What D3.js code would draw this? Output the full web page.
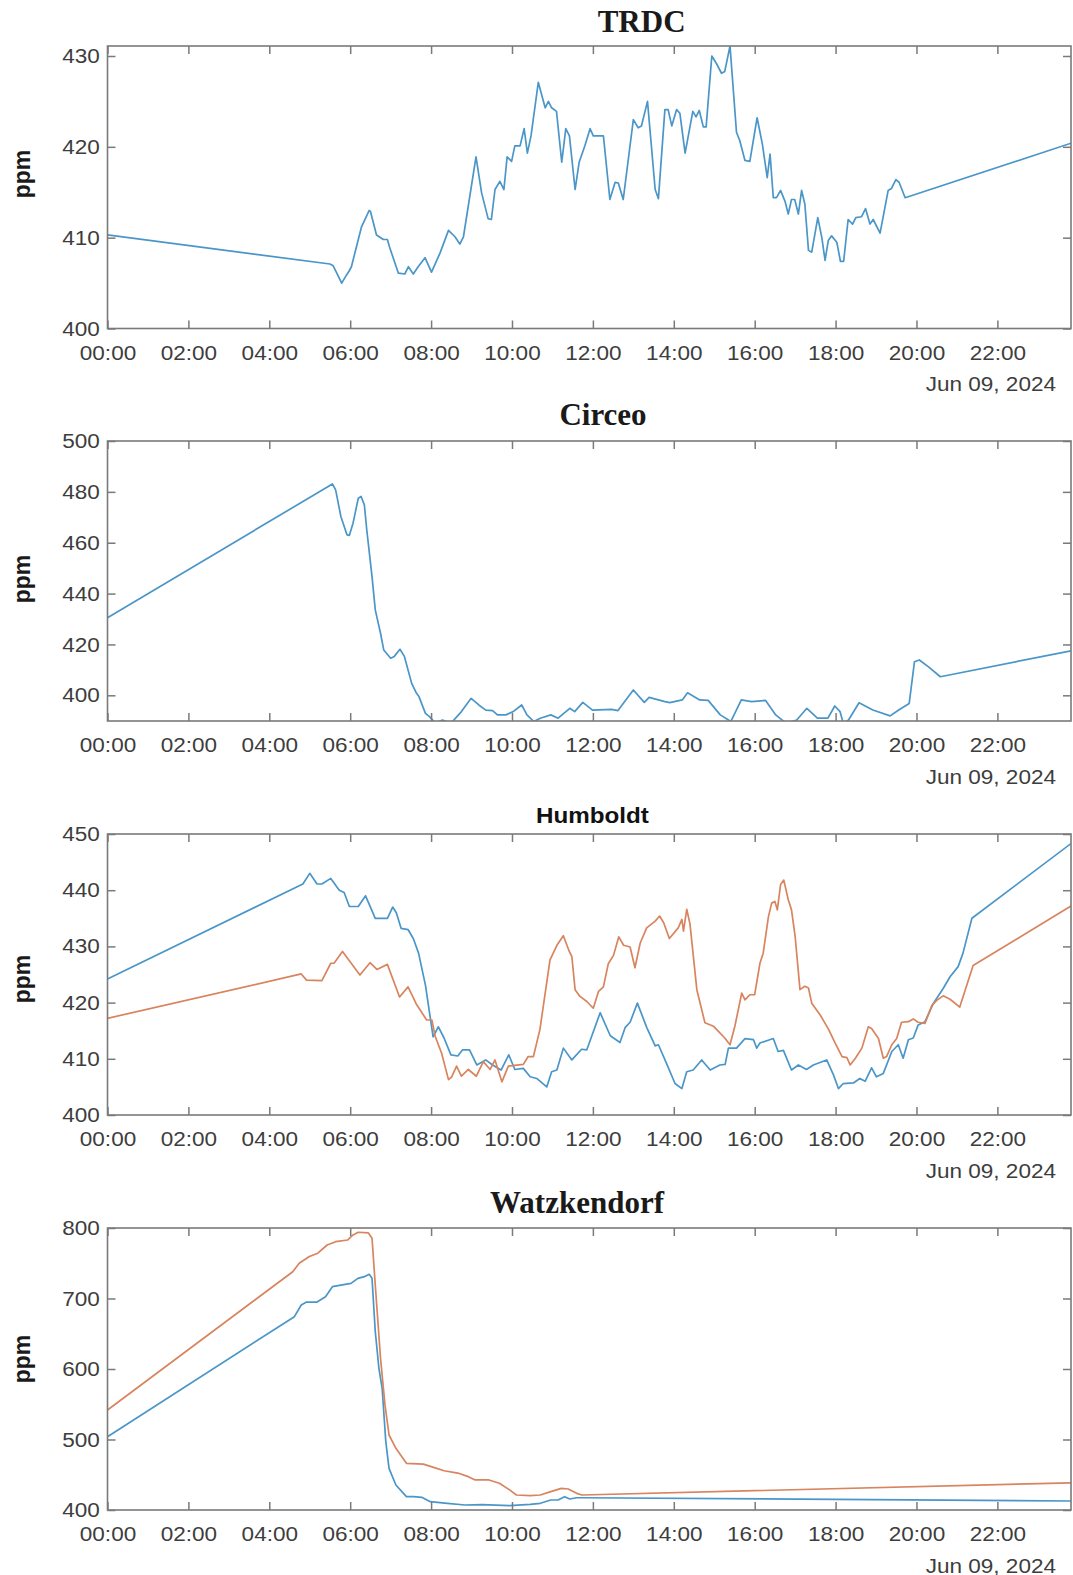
<!DOCTYPE html>
<html><head><meta charset="utf-8">
<script src="https://cdn.jsdelivr.net/npm/d3@7"></script>
<style>
html,body{margin:0;padding:0;background:#fff;}
svg{display:block;}
</style></head><body>
<svg id="chart" width="1073" height="1575"></svg>
<script>
// ---------- data (hour of day, ppm) ----------
const xTickHours = [0, 2, 4, 6, 8, 10, 12, 14, 16, 18, 20, 22];
const dateLabel = "Jun 09, 2024";
const panelTitles = ["TRDC", "Circeo", "Humboldt", "Watzkendorf"];
const yTicksTRDC = [400, 410, 420, 430];
const yTicksCirceo = [400, 420, 440, 460, 480, 500];
const yTicksHumboldt = [400, 410, 420, 430, 440, 450];
const yTicksWatz = [400, 500, 600, 700, 800];

const trdc = [[0,410.3],[5.50,407.1],[5.58,406.9],[5.79,405.0],[5.91,405.9],[5.97,406.3],[6.03,406.8],[6.28,411.2],[6.47,413.0],[6.50,412.9],[6.65,410.3],[6.82,409.8],[6.92,409.8],[6.97,409.0],[7.19,406.1],[7.35,406.0],[7.44,406.8],[7.56,406.0],[7.68,406.8],[7.85,407.8],[8.01,406.2],[8.22,408.3],[8.43,410.8],[8.59,410.1],[8.71,409.3],[8.80,410.1],[9.11,418.9],[9.25,414.9],[9.41,412.1],[9.49,412.0],[9.58,415.3],[9.70,416.2],[9.80,415.3],[9.88,418.9],[9.99,418.4],[10.07,420.1],[10.20,420.1],[10.30,422.0],[10.38,419.3],[10.47,421.2],[10.65,427.1],[10.82,424.3],[10.90,425.0],[10.98,424.3],[11.10,423.9],[11.23,418.3],[11.33,422.0],[11.42,421.2],[11.56,415.3],[11.66,418.3],[11.80,420.1],[11.93,422.0],[12.01,421.2],[12.26,421.2],[12.42,414.2],[12.55,416.1],[12.63,416.0],[12.75,414.2],[13.00,423.0],[13.12,422.1],[13.20,422.3],[13.35,425.0],[13.54,415.3],[13.62,414.3],[13.78,424.1],[13.86,424.1],[13.95,422.3],[14.07,424.1],[14.15,423.7],[14.28,419.3],[14.47,423.9],[14.55,423.3],[14.63,424.0],[14.73,422.2],[14.80,422.2],[14.94,430.0],[15.05,429.2],[15.18,428.1],[15.26,428.3],[15.39,431.1],[15.55,421.6],[15.63,420.7],[15.76,418.5],[15.88,418.4],[16.06,423.2],[16.19,420.3],[16.31,416.6],[16.38,419.2],[16.46,414.4],[16.54,414.4],[16.64,415.2],[16.75,414.0],[16.83,412.6],[16.91,414.2],[16.99,414.2],[17.08,412.6],[17.16,415.2],[17.24,413.7],[17.33,408.6],[17.41,408.4],[17.56,412.2],[17.66,410.0],[17.74,407.5],[17.82,409.7],[17.90,410.2],[18.03,409.5],[18.12,407.4],[18.20,407.4],[18.31,412.0],[18.42,411.5],[18.50,412.2],[18.64,412.3],[18.74,413.2],[18.85,411.5],[18.93,412.0],[19.10,410.5],[19.30,415.2],[19.38,415.4],[19.49,416.4],[19.57,416.1],[19.72,414.4],[23.82,420.4]];

const circeo = [[0,430.5],[5.56,483.1],[5.64,480.8],[5.77,470.3],[5.92,463.1],[5.98,462.9],[6.07,467.7],[6.20,477.5],[6.27,478.2],[6.35,474.9],[6.41,465.0],[6.54,446.7],[6.62,433.6],[6.75,424.4],[6.83,417.8],[7.00,414.6],[7.09,415.3],[7.23,418.1],[7.34,415.3],[7.52,404.7],[7.64,400.8],[7.70,399.5],[7.86,392.9],[7.96,391.6],[8.11,389.0],[8.28,390.3],[8.49,389.0],[8.75,393.6],[8.99,398.8],[9.18,396.2],[9.35,394.2],[9.52,394.0],[9.64,392.3],[9.85,392.3],[10.03,393.6],[10.24,396.2],[10.37,392.3],[10.54,389.7],[10.70,391.0],[10.96,392.3],[11.14,391.0],[11.43,394.9],[11.55,393.6],[11.75,397.2],[11.99,394.2],[12.46,394.5],[12.62,394.0],[13.00,402.1],[13.27,397.2],[13.39,399.2],[13.78,397.5],[13.90,397.1],[14.21,398.2],[14.34,401.0],[14.64,398.2],[14.85,398.0],[15.15,392.3],[15.41,389.7],[15.67,398.2],[15.92,397.5],[16.27,398.0],[16.52,392.3],[16.78,389.0],[17.04,390.3],[17.29,394.9],[17.55,391.0],[17.81,391.0],[17.98,395.8],[18.11,393.6],[18.19,389.0],[18.32,390.3],[18.58,397.1],[18.92,394.2],[19.35,391.9],[19.56,394.2],[19.82,396.8],[19.95,413.2],[20.07,413.9],[20.29,411.3],[20.59,407.3],[23.82,417.5]];

const humboldtBlue = [[0,424.2],[4.83,441.1],[5.00,443.0],[5.18,441.1],[5.30,441.1],[5.52,442.1],[5.73,440.0],[5.85,439.6],[5.98,437.1],[6.20,437.1],[6.38,439.0],[6.62,435.0],[6.92,435.0],[7.05,437.0],[7.14,436.0],[7.26,433.2],[7.43,433.0],[7.56,431.4],[7.69,428.8],[7.86,423.1],[8.05,413.9],[8.18,415.7],[8.32,413.7],[8.49,410.7],[8.66,410.5],[8.78,411.6],[8.95,411.6],[9.13,408.9],[9.35,409.8],[9.52,408.9],[9.73,408.0],[9.92,410.7],[10.07,408.1],[10.28,408.3],[10.45,406.8],[10.61,406.5],[10.86,405.0],[10.98,407.7],[11.11,408.0],[11.27,411.9],[11.48,409.8],[11.72,411.7],[11.85,411.6],[12.18,418.2],[12.43,414.1],[12.67,412.9],[12.80,415.6],[12.92,416.5],[13.10,419.9],[13.33,415.6],[13.54,412.3],[13.62,412.5],[13.82,409.2],[14.03,405.6],[14.20,404.7],[14.32,407.7],[14.48,408.0],[14.69,409.8],[14.90,408.0],[15.14,408.9],[15.27,409.0],[15.35,411.9],[15.55,411.9],[15.76,413.6],[15.97,413.4],[16.05,411.9],[16.13,412.8],[16.46,413.6],[16.58,411.3],[16.71,411.5],[16.91,408.0],[17.08,408.9],[17.28,408.1],[17.45,408.9],[17.78,409.8],[17.95,407.1],[18.07,404.7],[18.19,405.6],[18.44,405.7],[18.60,406.5],[18.73,406.0],[18.89,408.4],[19.01,406.8],[19.18,407.4],[19.39,411.3],[19.55,412.5],[19.67,410.1],[19.80,413.4],[19.92,413.7],[20.04,416.0],[20.21,416.6],[20.42,419.9],[20.66,422.5],[20.83,424.6],[21.03,426.4],[21.15,428.8],[21.37,435.0],[23.82,448.3]];

const humboldtOrange = [[0,417.2],[4.79,425.1],[4.92,424.0],[5.30,423.9],[5.52,427.0],[5.60,427.0],[5.81,429.1],[6.24,424.9],[6.49,427.1],[6.66,425.9],[6.92,426.8],[7.22,421.0],[7.43,422.8],[7.63,419.8],[7.89,416.9],[8.02,416.9],[8.10,414.0],[8.26,411.0],[8.43,406.3],[8.51,406.8],[8.63,408.7],[8.75,406.9],[8.92,408.1],[9.12,406.9],[9.29,409.5],[9.46,408.1],[9.58,409.8],[9.75,405.9],[9.91,408.7],[10.28,409.0],[10.40,410.4],[10.53,410.4],[10.69,415.2],[10.94,427.6],[11.11,430.2],[11.27,431.9],[11.40,429.4],[11.48,428.2],[11.56,422.3],[11.68,421.1],[11.85,420.2],[12.01,419.0],[12.14,422.0],[12.26,422.8],[12.38,426.9],[12.51,428.4],[12.64,431.7],[12.76,430.2],[12.92,429.9],[13.04,426.2],[13.17,430.6],[13.33,433.3],[13.54,434.5],[13.65,435.4],[13.75,434.2],[13.89,431.4],[14.11,433.3],[14.20,434.8],[14.24,432.7],[14.32,436.6],[14.40,434.0],[14.57,422.3],[14.77,416.4],[14.98,415.8],[15.26,413.7],[15.39,412.5],[15.51,415.8],[15.68,421.7],[15.76,420.5],[15.88,421.4],[16.00,421.4],[16.13,427.0],[16.21,428.8],[16.34,435.3],[16.42,437.7],[16.50,438.0],[16.56,436.5],[16.64,441.0],[16.72,441.8],[16.83,438.3],[16.91,436.5],[17.00,431.8],[17.12,422.3],[17.24,422.9],[17.33,422.6],[17.41,419.9],[17.62,417.8],[17.83,415.2],[17.99,412.8],[18.16,410.4],[18.28,410.2],[18.36,408.9],[18.49,410.1],[18.65,411.9],[18.81,415.7],[18.89,415.4],[19.06,413.6],[19.18,410.1],[19.26,410.4],[19.39,412.5],[19.51,413.6],[19.63,416.5],[19.80,416.6],[19.92,417.1],[20.04,416.5],[20.21,416.3],[20.38,419.5],[20.50,420.4],[20.66,421.2],[20.83,420.6],[21.07,419.2],[21.40,426.6],[23.82,437.2]];

const watzBlue = [[0,504],[4.62,674.2],[4.79,690.8],[4.92,695],[5.18,695],[5.39,702.6],[5.56,716.8],[5.77,719],[6.02,721.4],[6.19,728.6],[6.35,731],[6.47,734.3],[6.54,728.6],[6.62,652.9],[6.71,601],[6.79,572.6],[6.88,496.9],[6.96,459.1],[7.13,435.5],[7.39,418.9],[7.56,418.9],[7.77,418.0],[7.98,411.8],[8.40,409.5],[8.84,407.1],[9.26,407.5],[9.94,406.2],[10.45,408],[10.70,409.5],[10.96,414.2],[11.14,414.2],[11.30,418.9],[11.43,415.6],[11.60,417.4],[11.73,417.4],[23.82,412.8]];

const watzOrange = [[0,541.8],[4.58,738],[4.74,750],[4.99,759.6],[5.20,764.3],[5.43,775.9],[5.64,780.6],[5.94,783],[6.07,790.1],[6.20,794],[6.45,793],[6.54,785.4],[6.62,719.1],[6.75,615.2],[6.86,549],[6.96,506.4],[7.13,487.5],[7.39,466.2],[7.81,465],[8.06,460.4],[8.32,455.7],[8.66,452.4],[8.92,447.3],[9.09,442.6],[9.43,442.6],[9.69,437.9],[9.94,428.5],[10.11,421.3],[10.45,420.3],[10.70,421.3],[10.96,426],[11.22,430.7],[11.39,429.8],[11.60,423.6],[11.73,421.3],[23.82,438.5]];

// ---------- layout / style ----------
const BLUE = "#4a96c8", ORANGE = "#d8845e";
const day0 = new Date(2024, 5, 9, 0, 0);
const toDate = h => new Date(day0.getTime() + h * 3600e3);
const L = 107.5, R = 1071;
const x = d3.scaleTime().domain([day0, toDate(23.82)]).range([L, R]);

const panels = [
  {title: panelTitles[0], serif: true, tx: 641.6, ty: 31.5, top: 46, bottom: 328.5, dom: [400, 431.1], ticks: yTicksTRDC, ppmY: 174,
   series: [[trdc, BLUE]]},
  {title: panelTitles[1], serif: true, tx: 603, ty: 425, top: 441, bottom: 721, dom: [389.9, 500], ticks: yTicksCirceo, ppmY: 579,
   series: [[circeo, BLUE]]},
  {title: panelTitles[2], serif: false, tx: 592.4, ty: 823, top: 834, bottom: 1115, dom: [400, 450], ticks: yTicksHumboldt, ppmY: 979,
   series: [[humboldtBlue, BLUE], [humboldtOrange, ORANGE]]},
  {title: panelTitles[3], serif: true, tx: 577, ty: 1213, top: 1228, bottom: 1510, dom: [400, 800], ticks: yTicksWatz, ppmY: 1359,
   series: [[watzBlue, BLUE], [watzOrange, ORANGE]]}
];

const svg = d3.select("#chart");
const AX = "#7a7a7a", TXT = "#3d3d3d";
const FS = 20.5, SX = 1.1;

panels.forEach((p, i) => {
  const y = d3.scaleLinear().domain(p.dom).range([p.bottom, p.top]);
  const g = svg.append("g");

  const cid = "clip" + i;
  svg.append("clipPath").attr("id", cid).append("rect")
    .attr("x", L).attr("y", p.top).attr("width", R - L).attr("height", p.bottom - p.top);

  const line = d3.line().x(d => x(toDate(d[0]))).y(d => y(d[1])).curve(d3.curveLinear);
  p.series.forEach(([data, color]) => {
    g.append("path").datum(data).attr("clip-path", `url(#${cid})`)
      .attr("d", line).attr("fill", "none").attr("stroke", color)
      .attr("stroke-width", 1.7).attr("stroke-linejoin", "round").attr("stroke-linecap", "round");
  });

  const tickDates = xTickHours.map(toDate);
  const xb = g.append("g").attr("transform", `translate(0,${p.bottom})`)
    .call(d3.axisBottom(x).tickValues(tickDates).tickFormat(d3.timeFormat("%H:%M"))
      .tickSizeInner(-8).tickSizeOuter(0).tickPadding(16.5));
  const xt = g.append("g").attr("transform", `translate(0,${p.top})`)
    .call(d3.axisTop(x).tickValues(tickDates).tickFormat("").tickSizeInner(-8).tickSizeOuter(0));
  const yl = g.append("g").attr("transform", `translate(${L},0)`)
    .call(d3.axisLeft(y).tickValues(p.ticks).tickFormat(d3.format("d"))
      .tickSizeInner(-8).tickSizeOuter(0).tickPadding(7));
  const yr = g.append("g").attr("transform", `translate(${R},0)`)
    .call(d3.axisRight(y).tickValues(p.ticks).tickFormat("").tickSizeInner(-8).tickSizeOuter(0));

  [xb, xt, yl, yr].forEach(a => {
    a.select(".domain").remove();
    a.selectAll(".tick line").attr("stroke", AX).attr("stroke-width", 1.5);
    a.selectAll(".tick text").attr("fill", TXT).attr("font-family", "'Liberation Sans', Arial, sans-serif")
      .attr("font-size", FS).attr("transform", `scale(${SX},1)`);
  });

  g.append("rect").attr("x", L).attr("y", p.top).attr("width", R - L).attr("height", p.bottom - p.top)
    .attr("fill", "none").attr("stroke", AX).attr("stroke-width", 1.6);

  g.append("g").attr("transform", `translate(1056,${p.bottom + 62.5})`)
    .append("text").attr("text-anchor", "end").attr("transform", `scale(${SX},1)`)
    .attr("font-family", "'Liberation Sans', Arial, sans-serif").attr("font-size", FS)
    .attr("fill", TXT).text(dateLabel);

  svg.append("text").attr("transform", `translate(29.5,${p.ppmY}) rotate(-90)`)
    .attr("text-anchor", "middle").attr("font-family", "'Liberation Sans', Arial, sans-serif")
    .attr("font-weight", "bold").attr("font-size", 23).attr("fill", "#1a1a1a").text("ppm");

  const tg = svg.append("g").attr("transform", `translate(${p.tx},${p.ty})`);
  if (p.serif) {
    tg.append("text").attr("text-anchor", "middle")
      .attr("font-family", "'Liberation Serif', 'Times New Roman', serif").attr("font-weight", "bold")
      .attr("font-size", 31).attr("fill", "#1a1a1a").text(p.title);
  } else {
    tg.append("text").attr("text-anchor", "middle").attr("transform", `scale(${SX},1)`)
      .attr("font-family", "'Liberation Sans', Arial, sans-serif").attr("font-weight", "bold")
      .attr("font-size", 22).attr("fill", "#111").text(p.title);
  }
});
</script>
</body></html>
